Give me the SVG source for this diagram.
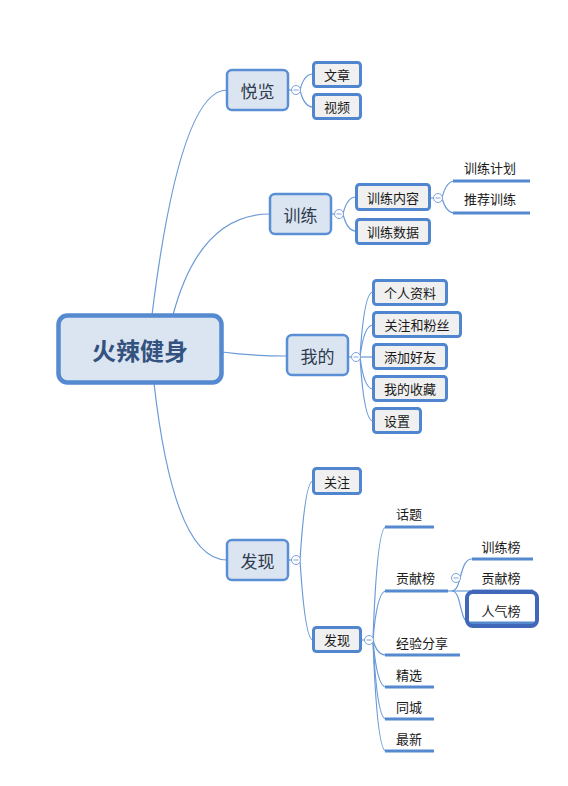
<svg xmlns="http://www.w3.org/2000/svg" width="568" height="786" viewBox="0 0 568 786">
<style>
.bg{fill:#ffffff}
.con{fill:none;stroke:#6a9ad8;stroke-width:1.2}
.central rect{fill:#dbe5f1;stroke:#5589d0;stroke-width:4.5}
.central text{font-family:"Noto Sans CJK SC","Liberation Sans",sans-serif;font-size:24px;font-weight:bold;fill:#34527f;text-anchor:middle;dominant-baseline:central}
.main rect{fill:#dbe5f1;stroke:#5b8fd5;stroke-width:2.5}
.main text{font-family:"Noto Sans CJK SC","Liberation Sans",sans-serif;font-size:17px;fill:#2f3b4e;text-anchor:middle;dominant-baseline:central}
.sub rect{fill:#f0f0f0;stroke:#4f86cf;stroke-width:3}
.sub text,.ul text{font-family:"Noto Sans CJK SC","Liberation Sans",sans-serif;font-size:13px;fill:#1a1a1a;text-anchor:middle}
.sub text{dominant-baseline:central}
.ul line{stroke:#5589d0;stroke-width:3}
.sel{fill:none;stroke:#4168b8;stroke-width:4}
</style>
<defs>
<g id="minus"><circle r="4.5" fill="#ffffff" stroke="#7ca3da" stroke-width="1"/><line x1="-2.5" y1="0" x2="2.5" y2="0" stroke="#7ca3da" stroke-width="1"/></g>
</defs>
<rect class="bg" x="0" y="0" width="568" height="786"/>
<g id="connectors">
<path class="con" d="M152,315 Q180,90 227,90"/>
<path class="con" d="M173,315 Q200,214 270,214"/>
<path class="con" d="M222,352 Q252,356 287,356"/>
<path class="con" d="M154,383 Q174,560 227,560"/>
<path class="con" d="M288,90 L296,90"/>
<path class="con" d="M300,90 Q304,74 313,74"/>
<path class="con" d="M300,90 Q304,107 313,107"/>
<path class="con" d="M331,214 L339,214"/>
<path class="con" d="M343,214 Q347,197 356,197"/>
<path class="con" d="M343,214 Q347,231 356,231"/>
<path class="con" d="M430,198 L438,198"/>
<path class="con" d="M442,198 Q446,181 455,181"/>
<path class="con" d="M442,198 Q446,213 455,213"/>
<path class="con" d="M348,357 L356,357"/>
<path class="con" d="M360,357 Q364,292 373,292"/>
<path class="con" d="M360,357 Q364,325 373,325"/>
<path class="con" d="M360,357 L373,357"/>
<path class="con" d="M360,357 Q364,389 373,389"/>
<path class="con" d="M360,357 Q364,421 373,421"/>
<path class="con" d="M288,560 L296,560"/>
<path class="con" d="M300,560 Q305,481 313,481"/>
<path class="con" d="M300,560 Q305,640 313,640"/>
<path class="con" d="M361,640 L369,640"/>
<path class="con" d="M373,640 Q377,527 386,527"/>
<path class="con" d="M373,640 Q377,591 386,591"/>
<path class="con" d="M373,640 Q377,655 386,655"/>
<path class="con" d="M373,640 Q377,687 386,687"/>
<path class="con" d="M373,640 Q377,719 386,719"/>
<path class="con" d="M373,640 Q377,751 386,751"/>
<path class="con" d="M447,591 L472,591"/>
<path class="con" d="M452,591 C462,591 459,559 472,559"/>
<path class="con" d="M452,591 C462,591 459,623 470,623"/>
</g>
<g id="n-center" class="central"><rect x="58.5" y="315.5" width="163" height="67" rx="9"/><text x="140" y="349">火辣健身</text></g>
<g id="n-yuelan" class="main"><rect x="227" y="70" width="61" height="40" rx="5"/><text x="257.5" y="90">悦览</text></g>
<g id="n-xunlian" class="main"><rect x="270" y="194" width="61" height="40" rx="5"/><text x="300.5" y="214">训练</text></g>
<g id="n-wode" class="main"><rect x="287" y="335" width="61" height="40" rx="5"/><text x="317.5" y="355">我的</text></g>
<g id="n-faxian" class="main"><rect x="227" y="540" width="61" height="40" rx="5"/><text x="257.5" y="560">发现</text></g>
<g id="n-wenzhang" class="sub"><rect x="313.5" y="62.5" width="47" height="24" rx="3"/><text x="337" y="74.5">文章</text></g>
<g id="n-shipin" class="sub"><rect x="313.5" y="94.5" width="47" height="24" rx="3"/><text x="337" y="106.5">视频</text></g>
<g id="n-xlnr" class="sub"><rect x="356.5" y="184.5" width="73" height="25" rx="3"/><text x="393" y="197">训练内容</text></g>
<g id="n-xlsj" class="sub"><rect x="356.5" y="219.5" width="73" height="24" rx="3"/><text x="393" y="231.5">训练数据</text></g>
<g id="n-xljh" class="ul"><text x="490" y="173">训练计划</text><line x1="453" y1="181" x2="530" y2="181"/></g>
<g id="n-tjxl" class="ul"><text x="490" y="204">推荐训练</text><line x1="453" y1="213" x2="530" y2="213"/></g>
<g id="n-grzl" class="sub"><rect x="373.5" y="280.5" width="73" height="24" rx="3"/><text x="410" y="292.5">个人资料</text></g>
<g id="n-gzhfs" class="sub"><rect x="373.5" y="312.5" width="87" height="24" rx="3"/><text x="417" y="324.5">关注和粉丝</text></g>
<g id="n-tjhy" class="sub"><rect x="373.5" y="344.5" width="73" height="24" rx="3"/><text x="410" y="356.5">添加好友</text></g>
<g id="n-wdsc" class="sub"><rect x="373.5" y="376.5" width="73" height="24" rx="3"/><text x="410" y="388.5">我的收藏</text></g>
<g id="n-shezhi" class="sub"><rect x="373.5" y="408.5" width="47" height="24" rx="3"/><text x="397" y="420.5">设置</text></g>
<g id="n-guanzhu" class="sub"><rect x="313.5" y="468.5" width="47" height="25" rx="3"/><text x="337" y="481">关注</text></g>
<g id="n-faxian2" class="sub"><rect x="313.5" y="627.5" width="47" height="24" rx="3"/><text x="337" y="639.5">发现</text></g>
<g id="n-huati" class="ul"><text x="409" y="519">话题</text><line x1="385" y1="527" x2="434" y2="527"/></g>
<g id="n-gxb" class="ul"><text x="415.5" y="583">贡献榜</text><line x1="385" y1="591" x2="448" y2="591"/></g>
<g id="n-jyfx" class="ul"><text x="422" y="648">经验分享</text><line x1="385" y1="655" x2="460" y2="655"/></g>
<g id="n-jingxuan" class="ul"><text x="409" y="680">精选</text><line x1="385" y1="687" x2="434" y2="687"/></g>
<g id="n-tongcheng" class="ul"><text x="409" y="712">同城</text><line x1="385" y1="719" x2="434" y2="719"/></g>
<g id="n-zuixin" class="ul"><text x="409" y="744">最新</text><line x1="385" y1="751" x2="434" y2="751"/></g>
<g id="n-xlb" class="ul"><text x="501" y="552">训练榜</text><line x1="472" y1="559" x2="533" y2="559"/></g>
<g id="n-gxb2" class="ul"><text x="501" y="583">贡献榜</text><line x1="472" y1="591" x2="533" y2="591"/></g>
<g id="n-rqb" class="ul"><text x="501" y="616">人气榜</text><line x1="468" y1="623" x2="536" y2="623"/><rect class="sel" x="467" y="592" width="70" height="34" rx="6"/></g>
<g id="collapse">
<use href="#minus" x="296" y="90"/>
<use href="#minus" x="339" y="214"/>
<use href="#minus" x="438" y="198"/>
<use href="#minus" x="356" y="357"/>
<use href="#minus" x="296" y="560"/>
<use href="#minus" x="369" y="640"/>
<use href="#minus" x="456" y="578"/>
</g>
</svg>
